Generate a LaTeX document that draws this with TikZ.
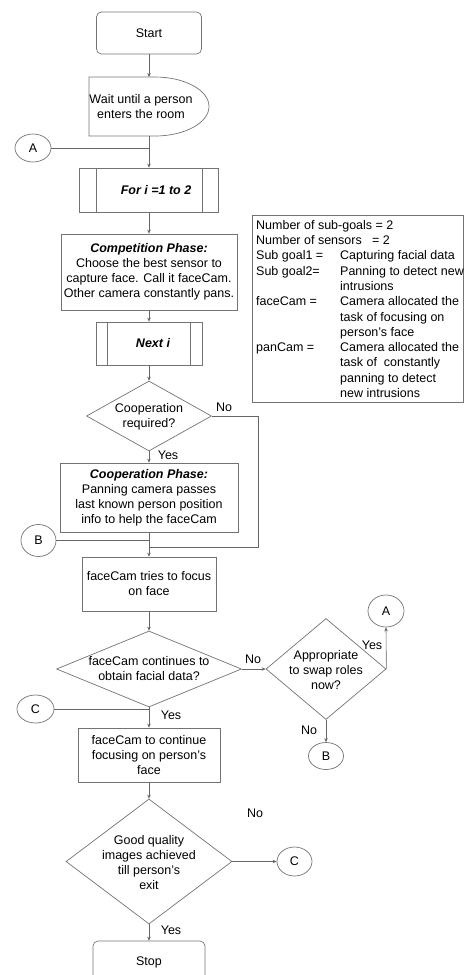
\documentclass[tikz,border=0pt]{standalone}
\usepackage{fontspec}
\setmainfont{Liberation Sans}
\usetikzlibrary{shapes.geometric,arrows.meta}
\begin{document}
\begin{tikzpicture}[x=1pt,y=-1pt,
  every node/.style={font=\fontsize{12.5}{15}\selectfont, inner sep=0pt, text=black},
  shapeline/.style={draw=black!55, line width=0.7pt},
  box/.style={shapeline, rectangle, align=center},
  rbox/.style={box, rounded corners=5pt},
  dia/.style={shapeline, diamond},
  conn/.style={shapeline, ellipse},
  txt/.style={align=center},
  bi/.style={font=\fontsize{12.5}{15}\selectfont\bfseries\itshape},
  line/.style={draw=black!60, line width=0.6pt},
  arr/.style={line, -{Stealth[length=4pt,width=3.5pt]}}
]
\useasboundingbox (0,0) rectangle (464,975);

% start
\node[rbox, minimum width=105, minimum height=42] (start) at (149,33) {Start};
% wait (delay shape)
\draw[shapeline] (89,77) -- (155,77) arc[start angle=90,end angle=-90,x radius=54pt,y radius=29.5pt] -- (89,136) -- cycle;
\node[txt] (wait) at (141,107) {Wait until a person\\enters the room};
\coordinate (waitN) at (149,77);
\coordinate (waitS) at (149,136);
\draw[arr] (start.south) -- (waitN);

% connector A (left)
\node[conn, minimum width=36, minimum height=28] (A1) at (33,148) {A};
\coordinate (jA) at (149,148);
\draw[line] (A1.east) -- (jA);

% For loop
\node[box, minimum width=139, minimum height=44] (fori) at (149,190) {};
\draw[shapeline] ([xshift=17pt]fori.north west) -- ([xshift=17pt]fori.south west);
\draw[shapeline] ([xshift=-17pt]fori.north east) -- ([xshift=-17pt]fori.south east);
\node[bi] (forit) at (156,190) {For i =1 to 2};
\draw[arr] (waitS) -- (fori.north);

% competition
\node[box, minimum width=176, minimum height=76] (comp) at (149,272) {\textbf{\textit{Competition Phase:}}\\Choose the best sensor to\\capture face. Call it faceCam.\\Other camera constantly pans.};
\draw[arr] (fori.south) -- (comp.north);

% next i
\node[box, minimum width=106, minimum height=43] (nexti) at (149,343.5) {};
\draw[shapeline] ([xshift=12pt]nexti.north west) -- ([xshift=12pt]nexti.south west);
\draw[shapeline] ([xshift=-12pt]nexti.north east) -- ([xshift=-12pt]nexti.south east);
\node[bi] (nextit) at (153,343.5) {Next i};
\draw[arr] (comp.south) -- (nexti.north);

% cooperation required?
\node[dia, minimum width=125, minimum height=70] (coop) at (149,416) {};
\node[txt] (coopt) at (149,416.5) {Cooperation\\required?};
\draw[arr] (nexti.south) -- (coop.north);
\node (noA) at (224,407) {No};
\node (yesA) at (168,455) {Yes};

% cooperation phase
\node[box, minimum width=178, minimum height=69] (coopbox) at (149,497.5) {\textbf{\textit{Cooperation Phase:}}\\Panning camera passes\\last known person position\\info to help the faceCam};
\draw[arr] (coop.south) -- (coopbox.north);

% B left
\node[conn, minimum width=35, minimum height=32] (B1) at (38.5,540.5) {B};

% faceCam tries
\node[box, minimum width=134, minimum height=54] (try) at (149,584) {faceCam tries to focus\\on face};
\draw[arr] (coopbox.south) -- (try.north);
\draw[line] (B1.east) -- (B1.east -| try.north);
\coordinate (noR) at (258,547);
\draw[line] (coop.east) -| (noR) -- (noR -| try.north);

% faceCam continues?
\node[dia, minimum width=185, minimum height=76] (d2) at (149,669) {};
\node[txt] (d2t) at (149,669) {faceCam continues to\\obtain facial data?};
\draw[arr] (try.south) -- (d2.north);
\node (noB) at (253,659) {No};

% swap roles?
\node[dia, minimum width=120, minimum height=101] (d3) at (326,669) {};
\node[txt] (d3t) at (326,670) {Appropriate\\to swap roles\\now?};
\draw[arr] (d2.east) -- (d3.west);
\node[conn, minimum width=36, minimum height=32] (A2) at (386,611) {A};
\draw[arr] (d3.east) -- (A2.south);
\node (yesB) at (372,645) {Yes};
\node[conn, minimum width=35, minimum height=27] (B2) at (326,756) {B};
\draw[arr] (d3.south) -- (B2.north);
\node (noC) at (309,730) {No};

% C left
\node[conn, minimum width=37, minimum height=28] (C1) at (35.5,709) {C};

% continue focusing
\node[box, minimum width=142, minimum height=54] (cont) at (149,755) {faceCam to continue\\focusing on person’s\\face};
\draw[arr] (d2.south) -- (cont.north);
\draw[line] (C1.east) -- (C1.east -| cont.north);
\node (yesC) at (171,715) {Yes};

% good quality?
\node[dia, minimum width=166, minimum height=125] (d4) at (149,861.5) {};
\node[txt] (d4t) at (149,862.5) {Good quality\\images achieved\\till person’s\\exit};
\draw[arr] (cont.south) -- (d4.north);
\node[conn, minimum width=35, minimum height=29] (C2) at (294.5,861.5) {C};
\draw[arr] (d4.east) -- (C2.west);
\node (noD) at (255,813) {No};

% stop
\node[rbox, minimum width=112, minimum height=42] (stop) at (149,962) {Stop};
\draw[arr] (d4.south) -- (stop.north);
\node (yesD) at (171,930) {Yes};

% info box
\node[shapeline, minimum width=211, minimum height=187, anchor=north west] (infobox) at (252,215) {};
\node[anchor=north west, align=left, font=\fontsize{12.5}{15.3}\selectfont] (info) at (256,220) {%
Number of sub-goals = 2\\
Number of sensors\ \ \ = 2\\
\makebox[84pt][l]{Sub goal1 =}Capturing facial data\\
\makebox[84pt][l]{Sub goal2=}Panning to detect new\\
\makebox[84pt][l]{}intrusions\\
\makebox[84pt][l]{faceCam =}Camera allocated the\\
\makebox[84pt][l]{}task of focusing on\\
\makebox[84pt][l]{}person’s face\\
\makebox[84pt][l]{panCam =}Camera allocated the\\
\makebox[84pt][l]{}task of\ \ constantly\\
\makebox[84pt][l]{}panning to detect\\
\makebox[84pt][l]{}new intrusions};
\end{tikzpicture}
\end{document}
